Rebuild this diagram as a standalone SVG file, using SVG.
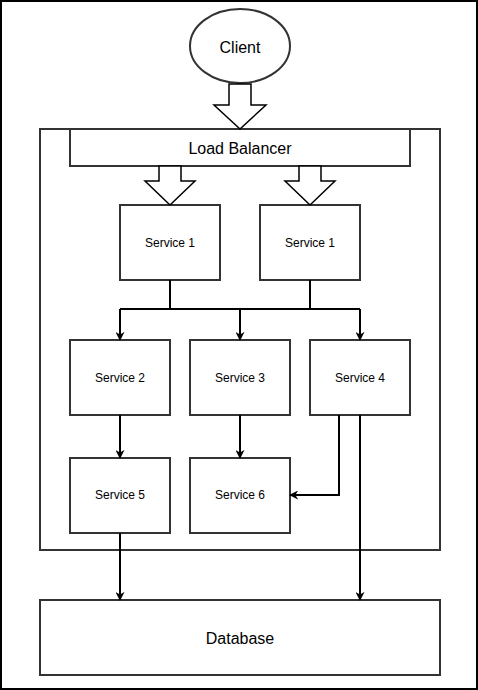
<svg xmlns="http://www.w3.org/2000/svg" width="478" height="690" viewBox="0 0 478 690">
<defs>
<style>
.box{fill:#fff;stroke:#333;stroke-width:2}
.blk{fill:#fff;stroke:#000;stroke-width:1.5;stroke-linejoin:miter}
.lbl{font-family:"Liberation Sans",Arial,sans-serif;font-size:12px;fill:#000;text-anchor:middle;dominant-baseline:central}
.big{font-size:16px}
.con{fill:none;stroke:#000;stroke-width:2}
</style>
<marker id="arr" viewBox="0 0 10 10" refX="9" refY="5" markerWidth="9" markerHeight="9" markerUnits="userSpaceOnUse" orient="auto">
<path d="M0,0 L10,5 L0,10 L3,5 Z" fill="#000"/>
</marker>
</defs>
<rect x="1" y="1" width="476" height="688" fill="#fff" stroke="#000" stroke-width="2"/>
<g id="container"><rect class="box" x="40" y="129" width="400" height="421"/></g>
<g id="client">
<ellipse class="box" cx="240" cy="46" rx="50" ry="37"/>
<text class="lbl big" x="240" y="47">Client</text>
</g>
<g id="load-balancer">
<rect class="box" x="70" y="129" width="340" height="37"/>
<text class="lbl big" x="240" y="148">Load Balancer</text>
</g>
<g id="service1a"><rect class="box" x="120" y="205" width="100" height="75"/><text class="lbl" x="170" y="243">Service 1</text></g>
<g id="service1b"><rect class="box" x="260" y="205" width="100" height="75"/><text class="lbl" x="310" y="243">Service 1</text></g>
<g id="service2"><rect class="box" x="70" y="340" width="100" height="75"/><text class="lbl" x="120" y="378">Service 2</text></g>
<g id="service3"><rect class="box" x="190" y="340" width="100" height="75"/><text class="lbl" x="240" y="378">Service 3</text></g>
<g id="service4"><rect class="box" x="310" y="340" width="100" height="75"/><text class="lbl" x="360" y="378">Service 4</text></g>
<g id="service5"><rect class="box" x="70" y="458" width="100" height="75"/><text class="lbl" x="120" y="495">Service 5</text></g>
<g id="service6"><rect class="box" x="190" y="458" width="100" height="75"/><text class="lbl" x="240" y="495">Service 6</text></g>
<g id="database"><rect class="box" x="40" y="600" width="400" height="75"/><text class="lbl big" x="240" y="638">Database</text></g>
<g id="connectors">
<path class="blk" d="M229,84 L251,84 L251,105 L266,105 L240,129 L214,105 L229,105 Z"/>
<path class="blk" d="M159,166 L181,166 L181,181 L195,181 L170,205 L145,181 L159,181 Z"/>
<path class="blk" d="M299,166 L321,166 L321,181 L335,181 L310,205 L285,181 L299,181 Z"/>
<path class="con" d="M170,280 V309 M310,280 V309 M120,309 H360"/>
<path class="con" marker-end="url(#arr)" d="M120,309 V340"/>
<path class="con" marker-end="url(#arr)" d="M240,309 V340"/>
<path class="con" marker-end="url(#arr)" d="M360,309 V340"/>
<path class="con" marker-end="url(#arr)" d="M120,415 V458"/>
<path class="con" marker-end="url(#arr)" d="M240,415 V458"/>
<path class="con" marker-end="url(#arr)" d="M339,415 V495 H290"/>
<path class="con" marker-end="url(#arr)" d="M360,415 V600"/>
<path class="con" marker-end="url(#arr)" d="M120,533 V600"/>
</g>
</svg>
